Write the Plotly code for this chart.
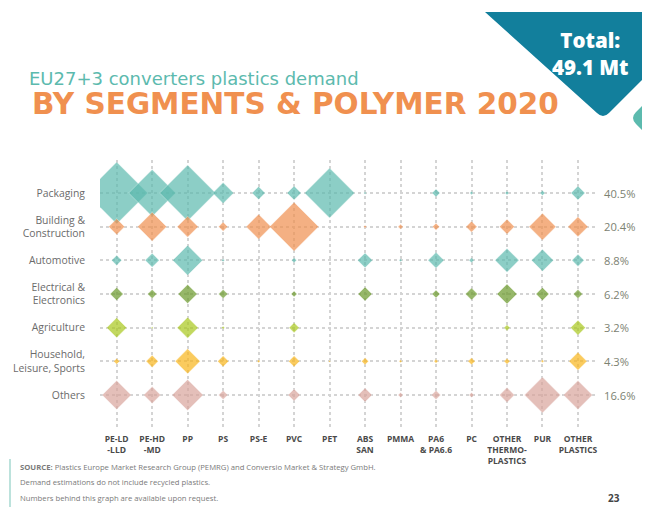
import numpy as np
import plotly.graph_objects as go

# ---------------- data ----------------
polymers = ["PE-LD<br>-LLD", "PE-HD<br>-MD", "PP", "PS", "PS-E", "PVC", "PET",
            "ABS<br>SAN", "PMMA", "PA6<br>& PA6.6", "PC", "OTHER<br>THERMO-<br>PLASTICS",
            "PUR", "OTHER<br>PLASTICS"]
segments = ["Packaging", "Building &<br>Construction", "Automotive",
            "Electrical &<br>Electronics", "Agriculture",
            "Household,<br>Leisure, Sports", "Others"]
shares = ["40.5%", "20.4%", "8.8%", "6.2%", "3.2%", "4.3%", "16.6%"]
colors = ["#5cbaae", "#f0904f", "#5cbaae", "#6b9a2b", "#a9c81c", "#f9b61b", "#d9a49c"]

# estimated demand (Mt) per segment x polymer, read from diamond sizes (None = not shown)
packaging    = [6.03, 3.47, 4.92, 0.69, 0.27, 0.31, 3.92, 0.010, None, 0.10, 0.020, 0.025, 0.04, 0.31]
building     = [0.40, 1.32, 0.69, 0.13, 0.98, 3.77, None, 0.014, 0.04, 0.077, 0.19, 0.35, 1.14, 0.63]
automotive   = [0.16, 0.31, 1.41, 0.014, None, 0.04, None, 0.35, 0.014, 0.40, 0.04, 0.90, 0.76, 0.23]
electrical   = [0.27, 0.13, 0.57, 0.13, None, 0.055, None, 0.31, None, 0.10, 0.23, 0.63, 0.27, 0.13]
agriculture  = [0.63, 0.006, 0.69, 0.014, None, 0.16, None, None, None, None, None, 0.055, None, 0.35]
household    = [0.055, 0.23, 0.98, 0.19, 0.014, 0.19, 0.006, 0.077, 0.014, 0.025, 0.077, 0.055, 0.014, 0.51]
others       = [1.32, 0.45, 1.51, 0.13, None, 0.23, None, 0.31, 0.04, 0.13, 0.04, 0.35, 2.03, 1.32]
rows = [packaging, building, automotive, electrical, agriculture, household, others]

OFF = 8  # page body margin
W, H = 650 - OFF, 507 - OFF
ML, MT = 100 - OFF, 160 - OFF
PW, PH = 495, 267
MR, MB = W - ML - PW, H - MT - PH

def px(x):   # screen x -> paper
    return (x - OFF - ML) / PW

def py(y):   # screen y -> paper
    return 1 - (y - OFF - MT) / PH

SIZE_K = 19.4  # px per sqrt(Mt)

fig = go.Figure()
for i, (seg, vals, col) in enumerate(zip(segments, rows, colors)):
    xs, ys, ss, tx = [], [], [], []
    for j, v in enumerate(vals):
        if v is None:
            continue
        xs.append(j)
        ys.append(i)
        ss.append(max(SIZE_K * np.sqrt(v), 1.5))
        tx.append(f"{polymers[j].replace('<br>', ' ')}: {v} Mt")
    fig.add_trace(go.Scatter(
        x=xs, y=ys, mode="markers", name=seg.replace("<br>", " "),
        marker=dict(symbol="diamond", size=ss, color=col,
                    line=dict(width=0.6, color="rgba(255,255,255,0.7)")),
        text=tx, hoverinfo="text", showlegend=False))

grid = dict(showgrid=True, gridcolor="#d4d4d4", griddash="dot", gridwidth=1.5,
            zeroline=False, showline=False, ticks="")

fig.update_xaxes(range=[-0.47, 13.48], tickvals=list(range(len(polymers))),
                 ticktext=[f"<b>{p}</b>" for p in polymers],
                 tickfont=dict(family="Open Sans", size=8.5, color="#4a4a4a"),
                 tickangle=0, ticklabelstandoff=5, **grid)
yt = [-1] + list(range(len(segments))) + [len(segments)]
fig.update_yaxes(range=[len(segments) - 0.05, -0.98], tickvals=yt,
                 ticktext=[""] + segments + [""],
                 tickfont=dict(family="Open Sans", size=10.4, color="#6b6b6b"),
                 ticklabelstandoff=14, **grid)

ann = []
for i, s in enumerate(shares):
    ann.append(dict(x=px(602), y=i, xref="paper", yref="y", text=s, showarrow=False,
                    xanchor="left", yanchor="middle",
                    font=dict(family="Open Sans", size=11.2, color="#7c8272")))

ann.append(dict(x=px(27), y=py(78), xref="paper", yref="paper",
                text="EU27+3 converters plastics demand", showarrow=False,
                xanchor="left", yanchor="middle",
                font=dict(family="DejaVu Sans", size=18, color="#5cbaae")))
ann.append(dict(x=px(30), y=py(104), xref="paper", yref="paper",
                text="BY SEGMENTS & POLYMER 2020", showarrow=False,
                xanchor="left", yanchor="middle",
                font=dict(family="DejaVu Sans", size=29.5, color="#f0904f", weight=700)))
ann.append(dict(x=px(590), y=py(54), xref="paper", yref="paper",
                text="Total:<br>49.1 Mt", showarrow=False, xanchor="center", yanchor="middle",
                font=dict(family="Open Sans", size=20.5, color="white", weight=800)))

foot = ["<b>SOURCE:</b> Plastics Europe Market Research Group (PEMRG) and Conversio Market & Strategy GmbH.",
        "Demand estimations do not include recycled plastics.",
        "Numbers behind this graph are available upon request."]
for k, (t, yy) in enumerate(zip(foot, [467, 482, 498])):
    ann.append(dict(x=px(18), y=py(yy), xref="paper", yref="paper", text=t,
                    showarrow=False, xanchor="left", yanchor="middle",
                    font=dict(family="Open Sans", size=7.7, color="#7a7a7a")))
ann.append(dict(x=px(614), y=py(498), xref="paper", yref="paper", text="<b>23</b>",
                showarrow=False, xanchor="center", yanchor="middle",
                font=dict(family="Open Sans", size=10, color="#444444")))

def path(pts_cmds):
    out = []
    for c in pts_cmds:
        if isinstance(c, str):
            out.append(c)
        else:
            out.append(f"{px(c[0]):.5f},{py(c[1]):.5f}")
    return " ".join(out)

badge = path(["M", (485, 12), "L", (660, 12), "L", (660, 62), "L", (609, 113),
              "Q", (603, 119), (597, 113), "Z"])
leaf = path(["M", (660, 88), "L", (636, 112), "Q", (630, 118), (636, 124), "L", (660, 148), "Z"])
shapes = [
    dict(type="path", xref="paper", yref="paper", path=badge, fillcolor="#127f9c",
         line=dict(width=0), layer="below"),
    dict(type="path", xref="paper", yref="paper", path=leaf, fillcolor="#5cbaae",
         line=dict(width=0), layer="below"),
    dict(type="line", xref="paper", yref="paper", x0=px(10), x1=px(10), y0=py(459), y1=py(507),
         line=dict(color="#a6d8d0", width=1.5)),
]

fig.update_layout(width=W, height=H, margin=dict(l=ML, r=MR, t=MT, b=MB, autoexpand=False),
                  plot_bgcolor="white", paper_bgcolor="white",
                  annotations=ann, shapes=shapes, showlegend=False)
fig.write_html("out.html")
